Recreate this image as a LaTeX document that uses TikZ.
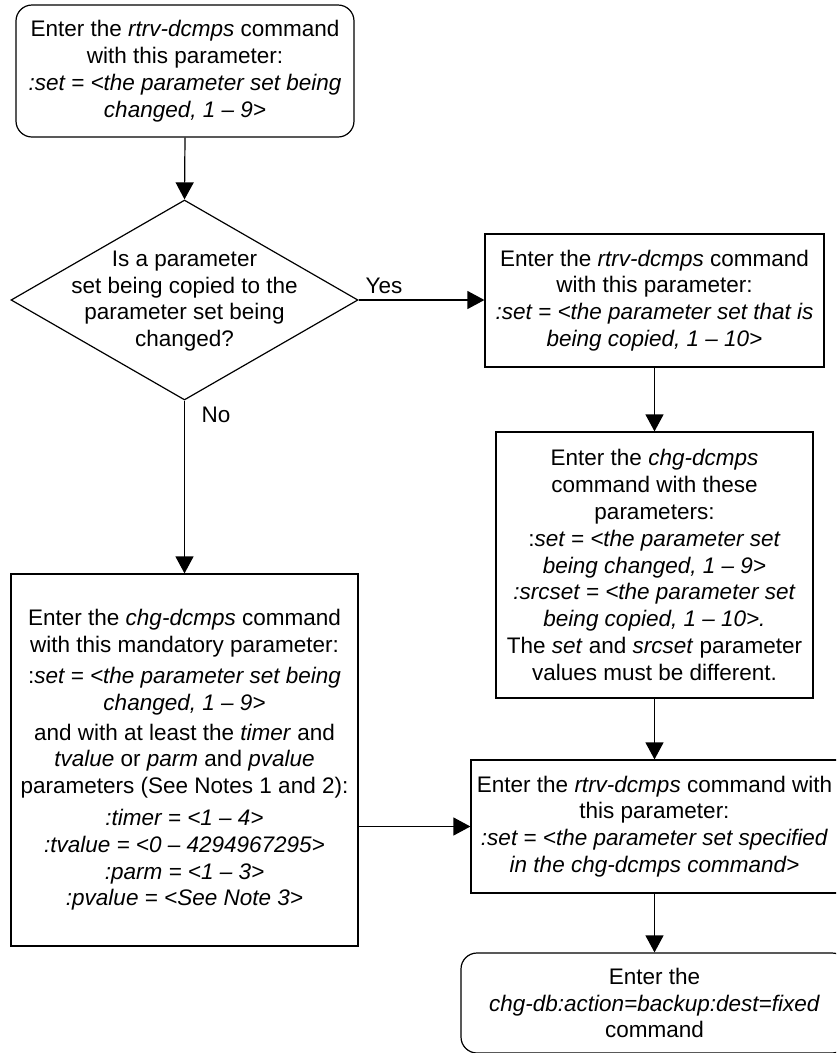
\documentclass[tikz,border=0pt]{standalone}
\usepackage{fontspec}
\setmainfont{Liberation Sans}
\usetikzlibrary{arrows.meta,shapes.geometric}
\begin{document}
\begin{tikzpicture}[x=1pt,y=-1pt,
  base/.style={draw, line width=1.2pt, align=center, inner sep=0pt,
    font=\fontsize{22.5}{26.8}\selectfont},
  proc/.style={base, rectangle},
  term/.style={base, rectangle, rounded corners=16pt},
  dec/.style={draw, line width=1.2pt, diamond, inner sep=0pt, minimum width=347pt, minimum height=200pt},
  plain/.style={align=center, inner sep=0pt, font=\fontsize{22.5}{26.8}\selectfont},
  conn/.style={line width=1.2pt, -{Triangle[length=17pt,width=18pt]}}
]
\useasboundingbox (0,0) rectangle (836,1053);
\clip (0,0) rectangle (836,1053);

\node[term, minimum width=338pt, minimum height=132pt] (b1) at (185,71)
 {Enter the \textit{rtrv-dcmps} command\\ with this parameter:\\ \textit{:set = <the parameter set being}\\ \textit{changed, 1 – 9>}};

\node[dec] (d) at (184.5,300) {};
\node[plain] (dt) at (184.5,301) {Is a parameter\\ set being copied to the\\ parameter set being\\ changed?};

\node[proc, minimum width=339pt, minimum height=133pt] (b2) at (654.5,300.5)
 {Enter the \textit{rtrv-dcmps} command\\ with this parameter:\\ \textit{:set = <the parameter set that is}\\ \textit{being copied, 1 – 10>}};

\node[proc, minimum width=317pt, minimum height=266pt] (b3) at (654.5,565)
 {Enter the \textit{chg-dcmps}\\ command with these\\ parameters:\\ :\textit{set = <the parameter set}\\ \textit{being changed, 1 – 9>}\\ \textit{:srcset = <the parameter set}\\ \textit{being copied, 1 – 10>.}\\ The \textit{set} and \textit{srcset} parameter\\ values must be different.};

\node[proc, minimum width=347pt, minimum height=372pt] (b6) at (184.5,760)
 {Enter the \textit{chg-dcmps} command\\ with this mandatory parameter:\\[4pt]
  :\textit{set = <the parameter set being}\\ \textit{changed, 1 – 9>}\\[3pt]
  and with at least the \textit{timer} and\\ \textit{tvalue} or \textit{parm} and \textit{pvalue}\\ parameters (See Notes 1 and 2):\\[5pt]
  \textit{:timer = <1 – 4>}\\ \textit{:tvalue = <0 – 4294967295>}\\ \textit{:parm = <1 – 3>}\\ \textit{:pvalue = <See Note 3>}};

\node[proc, minimum width=367pt, minimum height=133pt] (b4) at (654.5,826.5)
 {Enter the \textit{rtrv-dcmps} command with\\ this parameter:\\ \textit{:set = <the parameter set specified}\\ \textit{in the chg-dcmps command>}};

\node[term, minimum width=387pt, minimum height=100pt] (b5) at (654.5,1003)
 {Enter the\\ \textit{chg-db:action=backup:dest=fixed}\\ command};

\draw[conn] (b1.south) -- (d.north);
\draw[conn] (d.east) -- (d.east -| b2.west);
\draw[conn] (d.south) -- (b6.north);
\draw[conn] (b2.south) -- (b3.north);
\draw[conn] (b3.south) -- (b4.north);
\draw[conn] (b6.east |- b4.west) -- (b4.west);
\draw[conn] (b4.south) -- (b5.north);

\node[plain] (yes) at (384,286) {Yes};
\node[plain] (no) at (216,415) {No};
\end{tikzpicture}
\end{document}
